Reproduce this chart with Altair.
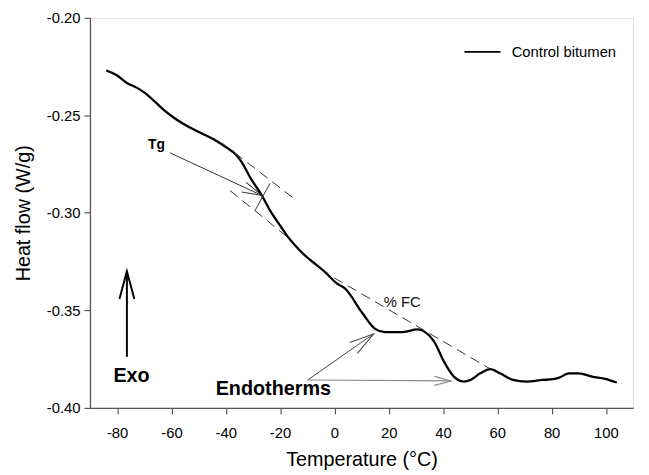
import math
import altair as alt
import pandas as pd

FONT = "Liberation Sans"

# ---- main curve ----
temp = [-84.0, -80.1, -76.4, -72.8, -69.8, -66.1, -62.5, -58.3, -53.4, -48.6, -44.3,
        -40.1, -36.4, -34.0, -31.0, -26.7, -23.7, -20.1, -17.6, -14.6, -10.4, -6.7,
        -3.1, 0.5, 4.2, 10.1, 15.0, 18.6, 24.7, 30.7, 33.1, 36.8, 40.4, 44.0, 47.7,
        50.1, 53.7, 57.4, 61.0, 65.8, 70.7, 76.7, 80.4, 82.8, 86.4, 90.0, 94.9, 99.7, 104.0]
heat = [-0.2270, -0.2295, -0.2334, -0.2358, -0.2385, -0.2430, -0.2476, -0.2520, -0.2561,
        -0.2594, -0.2624, -0.2662, -0.2700, -0.2743, -0.2819, -0.2911, -0.2987, -0.3063,
        -0.3114, -0.3165, -0.3224, -0.3266, -0.3308, -0.3358, -0.3392, -0.3510, -0.3595,
        -0.3612, -0.3612, -0.3598, -0.3609, -0.3662, -0.3764, -0.3840, -0.3865, -0.3857,
        -0.3823, -0.3801, -0.3823, -0.3857, -0.3865, -0.3857, -0.3853, -0.3845, -0.3823,
        -0.3823, -0.3840, -0.3851, -0.3870]
series_name = "Control bitumen"

x_ticks = [-80, -60, -40, -20, 0, 20, 40, 60, 80, 100]
y_ticks = [-0.40, -0.35, -0.30, -0.25, -0.20]
x_domain = [-90, 110]
y_domain = [-0.40, -0.20]

# ---- annotation segments (data coordinates) ----
seg_names = ["tan_up", "tan_low", "bracket", "tg_arrow", "fc_line", "endo_up", "endo_low", "exo"]
seg_t1 = [-41.3, -38.4, -23.7, -60.6, -0.1, -9.8, -9.8, -76.4]
seg_h1 = [-0.2643, -0.2886, -0.2849, -0.2692, -0.3333, -0.3857, -0.3857, -0.3738]
seg_t2 = [-15.1, -15.1, -29.2, -26.7, 57.5, 14.5, 43.0, -76.4]
seg_h2 = [-0.2924, -0.3149, -0.2988, -0.2911, -0.3801, -0.3620, -0.3862, -0.3300]
seg_dash = [True, True, False, False, True, False, False, False]
seg_color = ["#333333", "#333333", "#333333", "#333333", "#333333", "#444444", "#8a8a8a", "#000000"]
seg_width = [1.0, 1.0, 1.0, 1.0, 1.0, 1.0, 1.2, 2.0]
# arrowheads on these segments (length in px)
head_len = {"tg_arrow": 20, "endo_up": 25, "endo_low": 17, "exo": 28}

# ---- text labels ----
bold_text = ["Tg", "Exo", "Endotherms"]
bold_t = [-65.5, -74.7, -43.7]
bold_h = [-0.2655, -0.3836, -0.3905]
bold_size = [14, 20, 20]
bold_align = ["center", "center", "left"]
fc_text = ["% FC"]
fc_t = [25.0]
fc_h = [-0.3455]

W, H = 550, 395
px_x = W / (x_domain[1] - x_domain[0])
px_y = H / (y_domain[1] - y_domain[0])

xs = alt.Scale(domain=x_domain, nice=False, zero=False)
ys = alt.Scale(domain=y_domain, nice=False, zero=False)

curve = pd.DataFrame({"T": temp, "HF": heat, "series": series_name})
segs = pd.DataFrame({"name": seg_names, "T": seg_t1, "HF": seg_h1, "T2": seg_t2,
                     "HF2": seg_h2, "dash": seg_dash, "col": seg_color, "sw": seg_width})

heads = []
for i, n in enumerate(seg_names):
    if n in head_len:
        dx = (seg_t2[i] - seg_t1[i]) * px_x
        dy = -(seg_h2[i] - seg_h1[i]) * px_y
        ang = math.degrees(math.atan2(dx, -dy)) % 360
        L = head_len[n]
        heads.append({"T": seg_t2[i], "HF": seg_h2[i], "ang": ang, "sz": 4 * L * L,
                      "col": seg_color[i], "sw": seg_width[i]})
heads = pd.DataFrame(heads)

bold_df = pd.DataFrame({"txt": bold_text, "T": bold_t, "HF": bold_h, "fs": bold_size, "al": bold_align})
fc_df = pd.DataFrame({"txt": fc_text, "T": fc_t, "HF": fc_h})

x_axis = alt.Axis(values=x_ticks, title="Temperature (°C)", grid=False,
                  labelExpr="(datum.value < 0 ? '-' : '') + format(abs(datum.value), 'd')",
                  labelFont=FONT, labelFontSize=15, labelColor="#000",
                  titleFont=FONT, titleFontSize=20, titleFontWeight="normal", titleColor="#000",
                  tickSize=6, tickColor="#333", domainColor="#555", domainWidth=1.3,
                  labelPadding=12, titlePadding=9)
y_axis = alt.Axis(values=y_ticks, title="Heat flow (W/g)", grid=False,
                  labelExpr="(datum.value < 0 ? '-' : '') + format(abs(datum.value), '.2f')",
                  labelFont=FONT, labelFontSize=15, labelColor="#000",
                  titleFont=FONT, titleFontSize=20, titleFontWeight="normal", titleColor="#000",
                  tickSize=6, tickColor="#333", domainColor="#555", domainWidth=1.3,
                  labelPadding=4, titlePadding=13)

X = alt.X("T:Q", scale=xs, axis=x_axis, title="Temperature (°C)")
Y = alt.Y("HF:Q", scale=ys, axis=y_axis, title="Heat flow (W/g)")

line = alt.Chart(curve).mark_line(strokeWidth=2.3, interpolate="monotone").encode(
    x=X, y=Y,
    color=alt.Color("series:N",
                    scale=alt.Scale(domain=[series_name], range=["#000000"]),
                    legend=alt.Legend(title=None, orient="none", legendX=378, legendY=15,
                                      symbolType="stroke", symbolSize=1330, symbolStrokeWidth=2,
                                      symbolStrokeColor="#000",
                                      labelFont=FONT, labelFontSize=15, labelOffset=10,
                                      padding=0)),
)

dashed = alt.Chart(segs).transform_filter("datum.dash").mark_rule(strokeDash=[10, 6]).encode(
    x=X, y=Y, x2="T2:Q", y2="HF2:Q",
    stroke=alt.Stroke("col:N", scale=None),
    strokeWidth=alt.StrokeWidth("sw:Q", scale=None),
)
solid = alt.Chart(segs).transform_filter("!datum.dash").mark_rule().encode(
    x=X, y=Y, x2="T2:Q", y2="HF2:Q",
    stroke=alt.Stroke("col:N", scale=None),
    strokeWidth=alt.StrokeWidth("sw:Q", scale=None),
)
arrowheads = alt.Chart(heads).mark_point(filled=False, shape="M -0.27 1 L 0 0 L 0.27 1", opacity=1).encode(
    x=X, y=Y,
    angle=alt.Angle("ang:Q", scale=None),
    size=alt.Size("sz:Q", scale=None),
    stroke=alt.Stroke("col:N", scale=None),
    strokeWidth=alt.StrokeWidth("sw:Q", scale=None),
)
bold_center = alt.Chart(bold_df).transform_filter("datum.al == 'center'").mark_text(
    font=FONT, fontWeight="bold", align="center", baseline="middle", color="#000").encode(
    x=X, y=Y, text="txt:N", size=alt.Size("fs:Q", scale=None),
)
bold_left = alt.Chart(bold_df).transform_filter("datum.al == 'left'").mark_text(
    font=FONT, fontWeight="bold", align="left", baseline="middle", color="#000").encode(
    x=X, y=Y, text="txt:N", size=alt.Size("fs:Q", scale=None),
)
fc_label = alt.Chart(fc_df).mark_text(font=FONT, fontSize=15, align="center",
                                      baseline="middle", color="#111").encode(
    x=X, y=Y, text="txt:N",
)

chart = alt.layer(line, dashed, solid, arrowheads, bold_center, bold_left, fc_label).properties(
    width=W, height=H,
    autosize=alt.AutoSizeParams(type="none"),
    padding={"left": 83, "top": 7, "right": 8, "bottom": 60},
).configure_view(stroke="#666", strokeWidth=1.2).configure(background="white")

chart.save("out.html", embed_options={"renderer": "svg", "actions": False})
